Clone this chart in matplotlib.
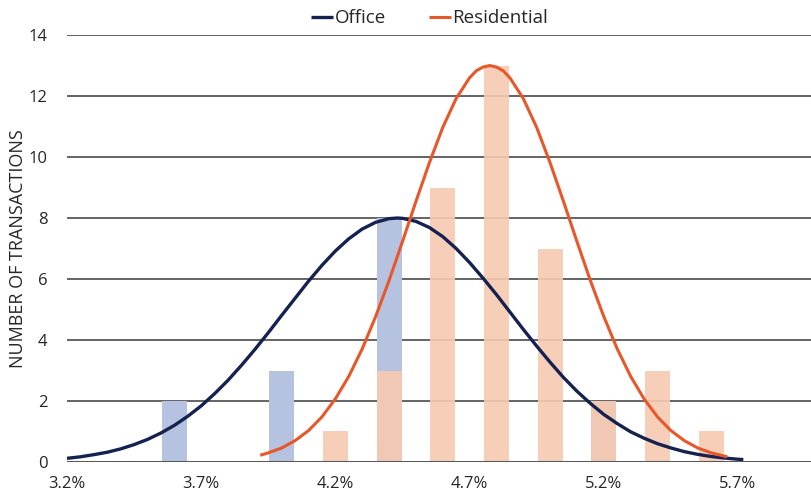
import matplotlib
matplotlib.use("Agg")
import matplotlib.pyplot as plt

plt.rcParams["font.family"] = ["Open Sans", "DejaVu Sans"]

# histogram of yields (bin centres, %) and counts
office_bins = [3.6, 4.0, 4.4, 5.2]
office_counts = [2, 3, 8, 2]
resi_bins = [4.2, 4.4, 4.6, 4.8, 5.0, 5.2, 5.4, 5.6]
resi_counts = [1, 3, 9, 13, 7, 2, 3, 1]

# fitted distribution curves, scaled to transaction counts
office_x = [3.20, 3.25, 3.30, 3.35, 3.40, 3.45, 3.50, 3.55, 3.60, 3.65,
            3.70, 3.75, 3.80, 3.85, 3.90, 3.95, 4.00, 4.05, 4.10, 4.15,
            4.20, 4.25, 4.30, 4.35, 4.40, 4.43, 4.45, 4.50, 4.55, 4.60,
            4.65, 4.70, 4.75, 4.80, 4.85, 4.90, 4.95, 5.00, 5.05, 5.10,
            5.15, 5.20, 5.25, 5.30, 5.35, 5.40, 5.45, 5.50, 5.55, 5.60,
            5.65, 5.70, 5.72]
office_y = [0.12, 0.17, 0.24, 0.32, 0.43, 0.57, 0.74, 0.95, 1.20, 1.50,
            1.84, 2.24, 2.68, 3.17, 3.69, 4.24, 4.81, 5.37, 5.93, 6.45,
            6.92, 7.32, 7.64, 7.86, 7.98, 8.00, 7.99, 7.89, 7.69, 7.39,
            7.00, 6.54, 6.03, 5.49, 4.92, 4.35, 3.80, 3.27, 2.77, 2.32,
            1.92, 1.56, 1.26, 0.99, 0.78, 0.60, 0.46, 0.34, 0.25, 0.18,
            0.13, 0.09, 0.08]
resi_x = [3.92, 3.95, 4.00, 4.05, 4.10, 4.15, 4.20, 4.25, 4.30, 4.35,
          4.40, 4.45, 4.50, 4.55, 4.60, 4.65, 4.70, 4.725, 4.75, 4.775,
          4.80, 4.825, 4.85, 4.90, 4.95, 5.00, 5.05, 5.10, 5.15, 5.20,
          5.25, 5.30, 5.35, 5.40, 5.45, 5.50, 5.55, 5.60, 5.65, 5.66]
resi_y = [0.22, 0.30, 0.46, 0.70, 1.03, 1.48, 2.07, 2.81, 3.71, 4.77,
          5.95, 7.23, 8.54, 9.81, 10.97, 11.92, 12.60, 12.83, 12.95, 13.00,
          12.95, 12.83, 12.60, 11.92, 10.97, 9.81, 8.54, 7.23, 5.95, 4.77,
          3.71, 2.81, 2.07, 1.48, 1.03, 0.70, 0.46, 0.30, 0.19, 0.17]

x_ticks = [3.2, 3.7, 4.2, 4.7, 5.2, 5.7]
x_ticklabels = ["3.2%", "3.7%", "4.2%", "4.7%", "5.2%", "5.7%"]

navy = "#152150"
orange = "#e8572a"
text_col = "#262626"

fig = plt.figure(figsize=(8.11, 4.93), dpi=100)
ax = fig.add_axes([0.0826, 0.0629, 0.9174, 0.866])

for y in range(2, 15, 2):
    ax.axhline(y, color="#3a3a3a", lw=1.1, zorder=0)
ax.axhline(0, color="#595959", lw=2.2, zorder=4)

ax.bar(office_bins, office_counts, width=0.093, color="#b5c3e0", zorder=1)
ax.bar(resi_bins, resi_counts, width=0.093, color="#f7c9b0", alpha=0.9, zorder=2)

ax.plot(office_x, office_y, color=navy, lw=2.4, label="Office", zorder=3,
        solid_capstyle="butt", solid_joinstyle="round")
ax.plot(resi_x, resi_y, color=orange, lw=2.2, label="Residential", zorder=3,
        solid_capstyle="butt", solid_joinstyle="round")

ax.set_xlim(3.2, 5.972)
ax.set_ylim(0, 14)
ax.set_yticks(range(0, 15, 2))
ax.set_xticks(x_ticks)
ax.set_xticklabels(x_ticklabels)
ax.tick_params(axis="both", length=0, labelsize=12, colors=text_col)
ax.tick_params(axis="x", pad=10)
ax.tick_params(axis="y", pad=14)
for s in ax.spines.values():
    s.set_visible(False)

ax.set_ylabel("NUMBER OF TRANSACTIONS", fontsize=13, color=text_col,
              labelpad=1)

fig.legend(loc="center", bbox_to_anchor=(0.53, 0.963), ncol=2, frameon=False,
           fontsize=13.5, handlelength=1.15, handletextpad=0.1,
           columnspacing=2.3, labelcolor=text_col)

fig.savefig("out.png", dpi=100)
